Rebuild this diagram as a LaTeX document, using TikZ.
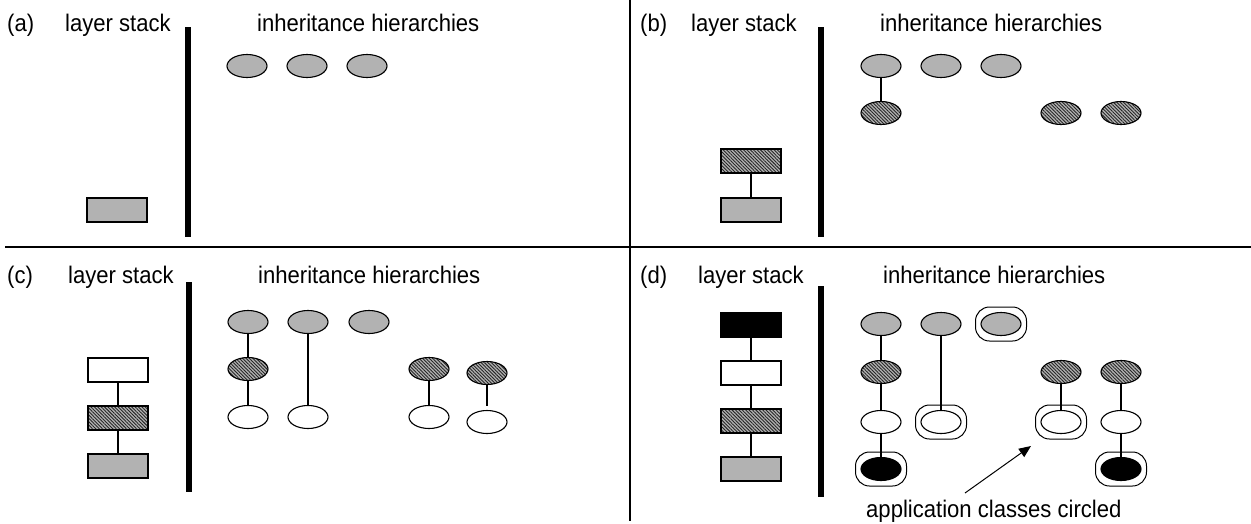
\documentclass[tikz,border=0pt]{standalone}
\usepackage{fontspec}
\setmainfont[FakeStretch=0.92]{Liberation Sans}
\usetikzlibrary{arrows.meta,patterns.meta,shapes.geometric}
\definecolor{lgray}{gray}{0.70}
\tikzset{
  cls/.style={ellipse,draw,line width=1.1pt,minimum width=40pt,minimum height=23pt,inner sep=0pt},
  gcls/.style={cls,fill=lgray},
  wcls/.style={cls,fill=white},
  kcls/.style={cls,fill=black},
  hcls/.style={cls,preaction={fill=gray!60},pattern={Lines[angle=-45,distance=2.4pt,line width=0.9pt]},pattern color=black!85},
  lay/.style={rectangle,draw,line width=2pt,minimum width=60pt,minimum height=24pt,inner sep=0pt},
  glay/.style={lay,fill=lgray},
  wlay/.style={lay,fill=white},
  klay/.style={lay,fill=black},
  hlay/.style={lay,preaction={fill=gray!60},pattern={Lines[angle=-45,distance=2.4pt,line width=0.9pt]},pattern color=black!85},
  ring/.style={rectangle,rounded corners=14pt,draw,line width=1pt,minimum width=51pt,minimum height=34pt,inner sep=0pt},
  link/.style={line width=1.4pt},
  bar/.style={line width=6pt},
  divider/.style={line width=2pt},
  lbl/.style={anchor=base west,inner sep=0pt,font=\fontsize{24}{28}\selectfont},
}
\begin{document}
\begin{tikzpicture}[x=1pt,y=-1pt]
\useasboundingbox (0,0) rectangle (1251,523);
% dividers
\coordinate (hL) at (5,247); \coordinate (hR) at (1251,247);
\coordinate (vT) at (630,0); \coordinate (vB) at (630,521);
\draw[divider] (hL) -- (hR);
\draw[divider] (vT) -- (vB);

% ---------- panel (a)
\node[lbl] (ta) at (7,31) {(a)};
\node[lbl] (tal) at (65,31) {layer stack};
\node[lbl] (tai) at (257,31) {inheritance hierarchies};
\coordinate (abT) at (187.5,27); \coordinate (abB) at (187.5,237);
\draw[bar] (abT) -- (abB);
\node[gcls] (a1) at (247,66) {};
\node[gcls] (a2) at (307,66) {};
\node[gcls] (a3) at (367,66) {};
\node[glay] (ag) at (117,210) {};

% ---------- panel (b)
\node[lbl] (tb) at (640,31) {(b)};
\node[lbl] (tbl) at (691,31) {layer stack};
\node[lbl] (tbi) at (880,31) {inheritance hierarchies};
\coordinate (bbT) at (821,27); \coordinate (bbB) at (821,237);
\draw[bar] (bbT) -- (bbB);
\node[gcls] (b1) at (881,66) {};
\node[gcls] (b2) at (941,66) {};
\node[gcls] (b3) at (1001,66) {};
\node[hcls] (b4) at (881,113) {};
\node[hcls] (b5) at (1061,113) {};
\node[hcls] (b6) at (1121,113) {};
\draw[link] (b1) -- (b4);
\node[hlay] (bh) at (751,161) {};
\node[glay] (bg) at (751,210) {};
\draw[link] (bh) -- (bg);

% ---------- panel (c)
\node[lbl] (tc) at (7,283) {(c)};
\node[lbl] (tcl) at (68,283) {layer stack};
\node[lbl] (tci) at (258,283) {inheritance hierarchies};
\coordinate (cbT) at (189,282); \coordinate (cbB) at (189,492);
\draw[bar] (cbT) -- (cbB);
\node[gcls] (c1) at (248,322) {};
\node[gcls] (c2) at (308,322) {};
\node[gcls] (c3) at (369,322) {};
\node[hcls] (c4) at (248,369) {};
\node[hcls] (c5) at (429,369) {};
\node[hcls] (c6) at (487,373) {};
\node[wcls] (c7) at (248,417) {};
\node[wcls] (c8) at (308,417) {};
\node[wcls] (c9) at (429,417) {};
\node[wcls] (c10) at (487,422) {};
\draw[link] (c1) -- (c4);
\draw[link] (c4) -- (c7);
\draw[link] (c2) -- (c8);
\draw[link] (c5) -- (c9);
\draw[link,shorten >=4pt] (c6) -- (c10);
\node[wlay] (cw) at (118,370) {};
\node[hlay] (ch) at (118,418) {};
\node[glay] (cg) at (118,466) {};
\draw[link] (cw) -- (ch);
\draw[link] (ch) -- (cg);

% ---------- panel (d)
\node[lbl] (td) at (640,283) {(d)};
\node[lbl] (tdl) at (698,283) {layer stack};
\node[lbl] (tdi) at (883,283) {inheritance hierarchies};
\coordinate (dbT) at (821,286); \coordinate (dbB) at (821,497);
\draw[bar] (dbT) -- (dbB);
\node[gcls] (d1) at (881,324) {};
\node[gcls] (d2) at (941,324) {};
\node[gcls] (d3) at (1001,324) {};
\node[ring] (d3o) at (1001,324) {};
\node[hcls] (d4) at (881,372) {};
\node[hcls] (d5) at (1061,372) {};
\node[hcls] (d6) at (1121,372) {};
\node[wcls] (d7) at (881,422) {};
\node[wcls] (d8) at (941,422) {};
\node[ring] (d8o) at (941,422) {};
\node[wcls] (d9) at (1061,422) {};
\node[ring] (d9o) at (1061,422) {};
\node[wcls] (d10) at (1121,422) {};
\node[kcls] (d11) at (881,469) {};
\node[ring] (d11o) at (881,469) {};
\node[kcls] (d12) at (1121,469) {};
\node[ring] (d12o) at (1121,469) {};
\draw[link] (d1) -- (d4);
\draw[link] (d4) -- (d7);
\draw[link] (d7) -- (d11);
\draw[link] (d2) -- (d8);
\draw[link] (d5) -- (d9);
\draw[link] (d6) -- (d10);
\draw[link] (d10) -- (d12);
\node[klay] (dk) at (751,325) {};
\node[wlay] (dw) at (751,373) {};
\node[hlay] (dh) at (751,421) {};
\node[glay] (dg) at (751,469) {};
\draw[link] (dk) -- (dw);
\draw[link] (dw) -- (dh);
\draw[link] (dh) -- (dg);
\node[lbl] (app) at (866,517) {application classes circled};
\coordinate (arS) at (965,493);
\coordinate (arE) at (1031,446);
\draw[line width=1pt,-{Triangle[length=12pt,width=10pt]}] (arS) -- (arE);
\end{tikzpicture}
\end{document}
